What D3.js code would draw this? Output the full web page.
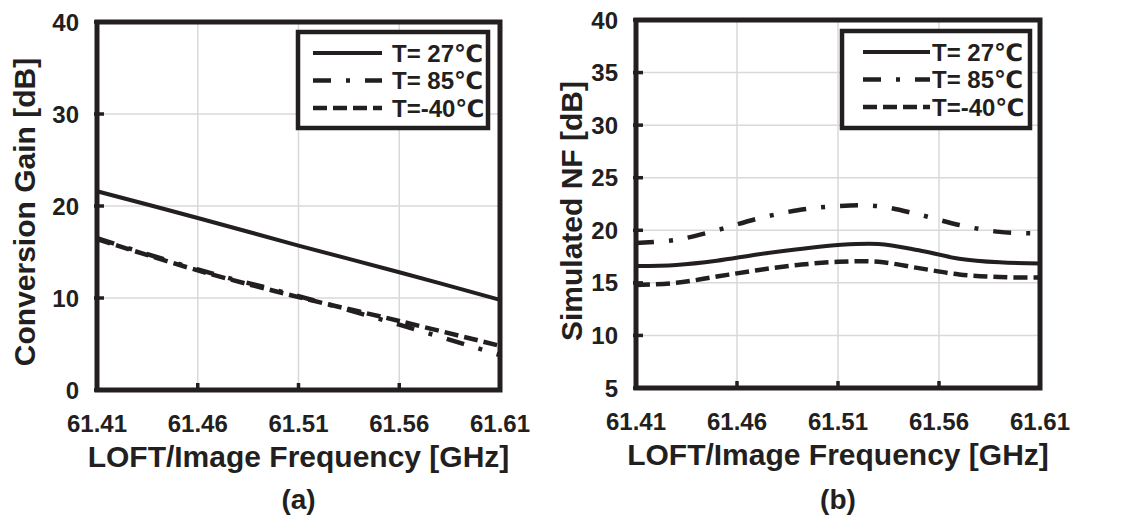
<!DOCTYPE html>
<html>
<head>
<meta charset="utf-8">
<script src="https://cdn.jsdelivr.net/npm/d3@7"></script>
<style>
  body { margin: 0; background: #fff; }
  text { font-family: 'Liberation Sans', Arial, 'DejaVu Sans', sans-serif; font-weight: bold; fill: #231f20; }
</style>
</head>
<body>
<div id="chart"></div>
<script>
// (a) conversion gain
const freqA = [61.41, 61.46, 61.51, 61.56, 61.61];
const gain27 = [21.6, 18.7, 15.7, 12.8, 9.8];
const gain85 = [16.5, 13.1, 10.2, 7.1, 3.8];
const gain40 = [16.4, 13.0, 10.1, 7.5, 4.8];

// (b) simulated NF
const freqB = [61.41, 61.43, 61.45, 61.47, 61.49, 61.51, 61.53, 61.55, 61.57, 61.59, 61.61];
const nf27 = [16.6, 16.7, 17.1, 17.7, 18.2, 18.6, 18.7, 18.1, 17.3, 16.95, 16.85];
const nf85 = [18.8, 19.1, 20.0, 21.1, 21.9, 22.3, 22.3, 21.5, 20.5, 19.85, 19.7];
const nf40 = [14.8, 15.0, 15.6, 16.2, 16.7, 17.0, 17.0, 16.4, 15.8, 15.55, 15.5];

const xTicks = [61.41, 61.46, 61.51, 61.56, 61.61];
const legendLabels = ['T= 27\u2103', 'T= 85\u2103', 'T=-40\u2103'];
const dashes = [null, '18,15,4,15', '14,6'];

const width = 1124, height = 519;
const svg = d3.select('#chart').append('svg')
  .attr('width', width)
  .attr('height', height);

function drawPanel(cfg) {
  const x = d3.scaleLinear().domain([61.41, 61.61]).range([cfg.left, cfg.right]);
  const y = d3.scaleLinear().domain(cfg.yDomain).range([cfg.bottom, cfg.top]);
  const g = svg.append('g');

  // grid
  g.selectAll('.hgrid').data(cfg.yTicks).join('line')
    .attr('x1', cfg.left).attr('x2', cfg.right)
    .attr('y1', d => y(d)).attr('y2', d => y(d))
    .attr('stroke', '#d9d9d9').attr('stroke-width', 1.5);
  g.selectAll('.vgrid').data(xTicks).join('line')
    .attr('x1', d => x(d)).attr('x2', d => x(d))
    .attr('y1', cfg.top).attr('y2', cfg.bottom)
    .attr('stroke', '#d9d9d9').attr('stroke-width', 1.5);

  // series
  const line = d3.line()
    .x((d, i) => x(cfg.freq[i]))
    .y(d => y(d))
    .curve(d3.curveCatmullRom);
  cfg.series.forEach((s, i) => {
    g.append('path')
      .attr('d', line(s))
      .attr('fill', 'none')
      .attr('stroke', '#231f20')
      .attr('stroke-width', i === 0 ? 4 : 4.5)
      .attr('stroke-dasharray', dashes[i]);
  });

  // ticks (inward)
  g.selectAll('.ytick').data(cfg.yTicks).join('line')
    .attr('x1', cfg.left - 3).attr('x2', cfg.left + 7)
    .attr('y1', d => y(d)).attr('y2', d => y(d))
    .attr('stroke', '#231f20').attr('stroke-width', 3.5);
  g.selectAll('.xtick').data(xTicks).join('line')
    .attr('x1', d => x(d)).attr('x2', d => x(d))
    .attr('y1', cfg.bottom).attr('y2', cfg.bottom - 7)
    .attr('stroke', '#231f20').attr('stroke-width', 3.5);

  // frame
  g.append('rect')
    .attr('x', cfg.left).attr('y', cfg.top)
    .attr('width', cfg.right - cfg.left).attr('height', cfg.bottom - cfg.top)
    .attr('fill', 'none').attr('stroke', '#231f20').attr('stroke-width', 5);

  // tick labels
  g.selectAll('.ylab').data(cfg.yTicks).join('text')
    .attr('x', cfg.left - 18).attr('y', d => y(d)).attr('dy', '0.36em')
    .attr('text-anchor', 'end').style('font-size', '24px')
    .text(d => d);
  g.selectAll('.xlab').data(xTicks).join('text')
    .attr('x', d => x(d)).attr('y', cfg.bottom + 42)
    .attr('text-anchor', 'middle').style('font-size', '24px')
    .text(d => d.toFixed(2));

  // axis titles
  const cx = (cfg.left + cfg.right) / 2;
  g.append('text')
    .attr('x', cx).attr('y', cfg.bottom + 77)
    .attr('text-anchor', 'middle').style('font-size', '30px')
    .text('LOFT/Image Frequency [GHz]');
  g.append('text')
    .attr('transform', `translate(${cfg.yTitleX},${cfg.yTitleY}) rotate(-90)`)
    .attr('text-anchor', 'middle').style('font-size', '30px')
    .text(cfg.yTitle);
  g.append('text')
    .attr('x', cx).attr('y', 509)
    .attr('text-anchor', 'middle').style('font-size', '28px')
    .text(cfg.caption);

  // legend
  const lg = cfg.legend;
  g.append('rect')
    .attr('x', lg.x).attr('y', lg.y).attr('width', lg.w).attr('height', lg.h)
    .attr('fill', '#fff').attr('stroke', '#231f20').attr('stroke-width', 4.5);
  legendLabels.forEach((lab, i) => {
    const ly = lg.y + 21 + i * 27.5;
    g.append('line')
      .attr('x1', lg.lx1).attr('x2', lg.lx2).attr('y1', ly).attr('y2', ly)
      .attr('stroke', '#231f20').attr('stroke-width', i === 0 ? 4 : 4.5)
      .attr('stroke-dasharray', dashes[i]);
    g.append('text')
      .attr('x', lg.tx).attr('y', ly).attr('dy', '0.36em')
      .style('font-size', '24px')
      .text(lab);
  });
}

drawPanel({
  left: 97, right: 500, top: 22, bottom: 390,
  yDomain: [0, 40], yTicks: [0, 10, 20, 30, 40],
  freq: freqA, series: [gain27, gain85, gain40],
  yTitle: 'Conversion Gain [dB]', yTitleX: 35, yTitleY: 212,
  caption: '(a)',
  legend: { x: 298, y: 32, w: 190, h: 96, lx1: 313, lx2: 382, tx: 392 }
});

drawPanel({
  left: 636, right: 1040, top: 20, bottom: 388,
  yDomain: [5, 40], yTicks: [5, 10, 15, 20, 25, 30, 35, 40],
  freq: freqB, series: [nf27, nf85, nf40],
  yTitle: 'Simulated NF [dB]', yTitleX: 582, yTitleY: 211,
  caption: '(b)',
  legend: { x: 842, y: 31, w: 188, h: 97, lx1: 863, lx2: 930, tx: 932 }
});
</script>
</body>
</html>
